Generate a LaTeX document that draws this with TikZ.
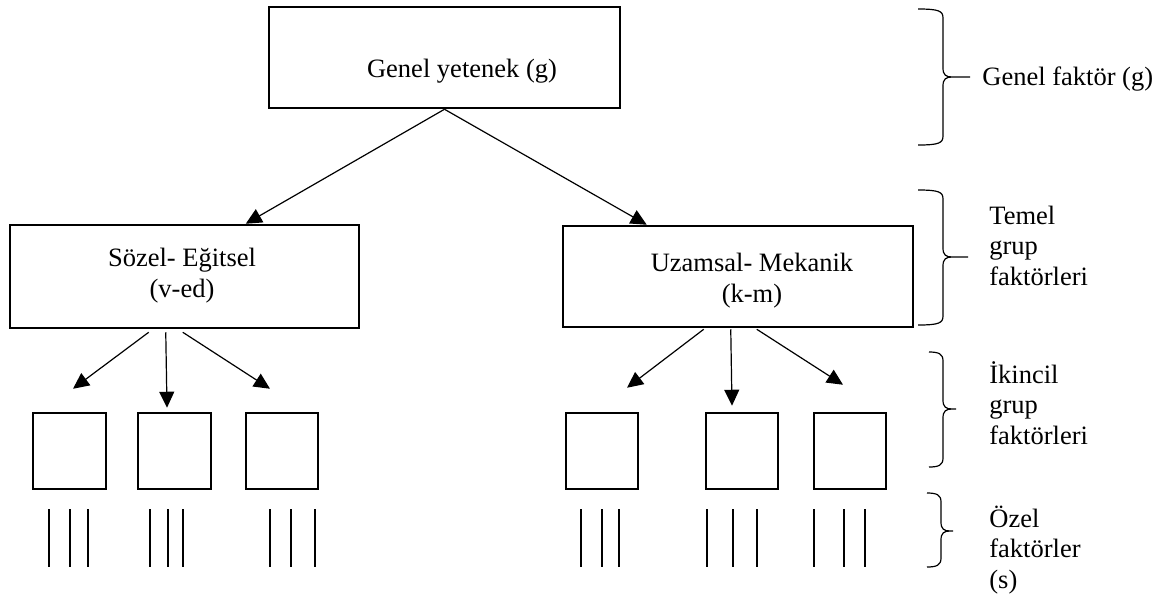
\documentclass[tikz,border=0pt]{standalone}
\usepackage{fontspec}
\setmainfont{Liberation Serif}
\usetikzlibrary{arrows.meta,fit,calc}
\newcommand{\wbrace}[6]{% xl xr xt top mid bot
  \draw[bracestyle] (#1,#4) .. controls ({#2-4},#4) and (#2,{#4+2}) .. (#2,{#4+9})
    -- (#2,{#5-9}) .. controls (#2,{#5-2}) and ({#2+3},#5) .. ({#2+9},#5) -- (#3,#5)
    ({#2+9},#5) .. controls ({#2+3},#5) and (#2,{#5+2}) .. (#2,{#5+9})
    -- (#2,{#6-9}) .. controls (#2,{#6-2}) and ({#2-4},#6) .. (#1,#6);}
\begin{document}
\begin{tikzpicture}[x=0.5pt,y=-0.5pt,
  font=\fontsize{13.25pt}{15.25pt}\selectfont,
  box/.style={draw,line width=1.25pt,fill=white,inner sep=0pt},
  arr/.style={line width=0.6pt,-{Triangle[length=8pt,width=7.5pt]}},
  bar/.style={line width=1.05pt},
  bracestyle/.style={line width=0.6pt},
  txt/.style={inner sep=0pt}]
\useasboundingbox (0,0) rectangle (1175,596);
% boxes
\node[box, fit={(269,7) (620,108)}] (g) {};
\node[box, fit={(10,225) (359,328)}] (v) {};
\node[box, fit={(563,226) (913,327)}] (k) {};
\node[box, fit={(33,413) (106,489)}] (v1) {};
\node[box, fit={(138,413) (211,489)}] (v2) {};
\node[box, fit={(246,413) (318,489)}] (v3) {};
\node[box, fit={(566,413) (638,489)}] (k1) {};
\node[box, fit={(706,413) (778,489)}] (k2) {};
\node[box, fit={(814,413) (886,489)}] (k3) {};
% box texts
\node[txt, anchor=base] (gt) at (462,77) {Genel yetenek (g)};
\node[txt, anchor=base, align=center] (vt) at (182,297) {Sözel- Eğitsel\\(v-ed)};
\node[txt, anchor=base, align=center] (kt) at (752,302) {Uzamsal- Mekanik\\(k-m)};
% arrows
\draw[arr] (g.south) -- ($(v.north west)+(237,0)$);
\draw[arr] (g.south) -- ($(k.north west)+(85,0)$);
\draw[arr] ($(v.south west)+(140,3)$) -- ($(v1.north)+(3.5,-23)$);
\draw[arr] ($(v.south west)+(157,3)$) -- ($(v2.north)+(-7.5,-4)$);
\draw[arr] ($(v.south west)+(174,3)$) -- ($(v3.north)+(-12,-23)$);
\draw[arr] ($(k.south west)+(142,1)$) -- ($(k1.north)+(25,-24)$);
\draw[arr] ($(k.south west)+(169,1)$) -- ($(k2.north)+(-10,-6)$);
\draw[arr] ($(k.south west)+(195,1)$) -- ($(k3.north)+(-7,-27)$);
% special factor bars
\foreach \x in {49,70,88,150,168,183,270,291,315,581,602,619,707,733,757,814,844,865}
  \draw[bar] (\x,509) -- (\x,567);
% braces
\wbrace{918}{943}{970}{9}{77}{145}
\wbrace{918}{943}{968}{190}{257}{325}
\wbrace{929}{943}{956}{352}{409}{467}
\wbrace{927}{941}{953}{493}{531}{567}
% labels
\node[txt, anchor=base west] (l1) at (982,85) {Genel faktör (g)};
\node[txt, anchor=base west, align=left] (l2) at (989,285) {Temel\\grup\\faktörleri};
\node[txt, anchor=base west, align=left] (l3) at (989,444) {İkincil\\grup\\faktörleri};
\node[txt, anchor=base west, align=left] (l4) at (989,588) {Özel\\faktörler\\(s)};
\end{tikzpicture}
\end{document}
